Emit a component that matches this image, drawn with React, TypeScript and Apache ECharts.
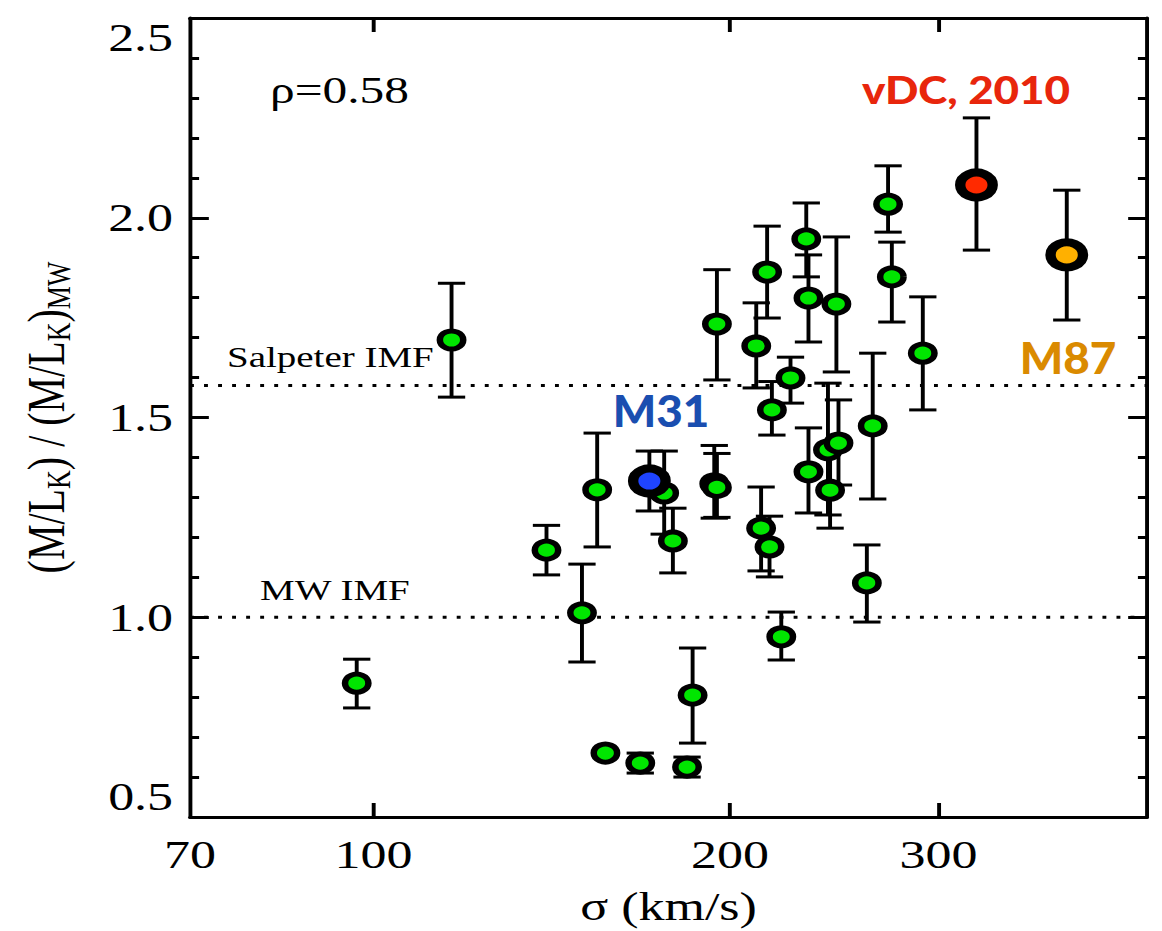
import React, { useEffect, useRef } from 'react';
import * as echarts from 'echarts';

// ---------- data (σ in km/s, (M/L_K)/(M/L_K)_MW with upper / lower error bounds) ----------
const SIGMA = [96.8, 116.4, 140, 150, 154.5, 157, 168, 176, 179, 184, 186, 194, 195, 195, 210.5, 215, 217, 212.5, 216, 221, 225, 232, 233, 246, 233, 242, 247, 243, 264, 261, 291, 272, 274];
const ML = [0.835, 1.694, 1.168, 1.011, 1.319, 0.66, 0.635, 1.311, 1.191, 0.625, 0.805, 1.334, 1.325, 1.734, 1.679, 1.864, 1.519, 1.223, 1.176, 0.951, 1.599, 1.947, 1.799, 1.784, 1.364, 1.419, 1.436, 1.318, 1.479, 1.086, 1.661, 2.034, 1.852];
const ML_HI = [0.895, 1.836, 1.23, 1.133, 1.461, 0.665, 0.66, 1.416, 1.273, 0.65, 0.923, 1.43, 1.41, 1.87, 1.787, 1.979, 1.59, 1.326, 1.253, 1.013, 1.651, 2.037, 1.907, 1.952, 1.474, 1.586, 1.544, 1.42, 1.661, 1.181, 1.802, 2.13, 1.939];
const ML_LO = [0.773, 1.551, 1.106, 0.888, 1.176, 0.655, 0.61, 1.208, 1.111, 0.6, 0.685, 1.248, 1.25, 1.594, 1.574, 1.749, 1.456, 1.116, 1.101, 0.893, 1.536, 1.852, 1.689, 1.614, 1.261, 1.256, 1.331, 1.223, 1.296, 0.988, 1.519, 1.964, 1.739];

// highlighted galaxies: [sigma, ML, hi, lo]
const M31_POINT = [171, 1.341, 1.416, 1.266];
const VDC_POINT = [323, 2.082, 2.25, 1.919];
const M87_POINT = [385, 1.907, 2.069, 1.744];

const X_RANGE = [70, 450];
const Y_RANGE = [0.5, 2.5];
const X_TICK_LABELS = [70, 100, 200, 300];
const X_TICKS = [100, 200, 300];
const IMF_LEVELS = [1.0, 1.58];
const IMF_NAMES = ['MW IMF', 'Salpeter IMF'];

// ---------- layout ----------
const W = 894;
const H = 931;
const S = 1162 / W; // horizontal stretch of the reference picture
const SERIF = "'Liberation Serif', 'Times New Roman', serif";
const SANS = "Lato, 'Open Sans', sans-serif";
const lg = (v: number) => Math.log10(v);

export default function App() {
  const ref = useRef<HTMLDivElement>(null);

  useEffect(() => {
    const chart = echarts.init(ref.current!, null, { renderer: 'svg' });

    const errData = SIGMA.map((s, i) => [lg(s), ML_HI[i], ML_LO[i]]);
    [M31_POINT, VDC_POINT, M87_POINT].forEach((p) => errData.push([lg(p[0]), p[2], p[3]]));

    const axisLine = { show: true, onZero: false, lineStyle: { color: '#000', width: 3 } };
    const xTickVals = X_TICKS.map(lg);

    const xBase = {
      type: 'value',
      min: lg(X_RANGE[0]),
      max: lg(X_RANGE[1]),
      axisLine,
      splitLine: { show: false },
    };
    const yBase = {
      type: 'value',
      min: Y_RANGE[0],
      max: Y_RANGE[1],
      interval: 0.5,
      axisLine,
      splitLine: { show: false },
      minorSplitLine: { show: false },
      axisTick: { show: true, inside: true, length: 14.5, lineStyle: { color: '#000', width: 3 } },
      minorTick: { show: true, splitNumber: 5, length: 7, lineStyle: { color: '#000', width: 3 } },
    };

    const option: any = {
      animation: false,
      backgroundColor: '#fff',
      grid: { left: 190 / S, right: W - 1147 / S, top: 18, bottom: H - 817, containLabel: false, outerBoundsMode: 'none' },
      xAxis: [
        {
          ...xBase,
          position: 'bottom',
          axisTick: { show: true, inside: true, length: 14, customValues: xTickVals, lineStyle: { color: '#000', width: 3 } },
          axisLabel: {
            show: true,
            customValues: X_TICK_LABELS.map(lg),
            formatter: (v: number) => String(Math.round(Math.pow(10, v))),
            fontFamily: SERIF,
            fontSize: 40,
            color: '#000',
            margin: 18,
          },
          name: 'σ (km/s)',
          nameLocation: 'middle',
          nameGap: 70,
          nameTextStyle: { fontFamily: SERIF, fontSize: 40, color: '#000' },
        },
        {
          ...xBase,
          position: 'top',
          axisTick: { show: true, inside: true, length: 14, customValues: xTickVals, lineStyle: { color: '#000', width: 3 } },
          axisLabel: { show: false },
        },
      ],
      yAxis: [
        {
          ...yBase,
          position: 'left',
          axisLabel: {
            show: true,
            formatter: (v: number) => v.toFixed(1),
            fontFamily: SERIF,
            fontSize: 40,
            color: '#000',
            margin: 13,
            verticalAlignMinLabel: 'bottom',
            verticalAlignMaxLabel: 'top',
          },
          name: '(M/L{s|K}) / (M/L{s|K}){s|MW}',
          nameLocation: 'middle',
          nameRotate: 90,
          nameGap: 88,
          nameTextStyle: {
            fontFamily: SERIF,
            fontSize: 40,
            lineHeight: 44,
            color: '#000',
            rich: {
              s: { fontFamily: SERIF, fontSize: 26, lineHeight: 26, padding: [22, 0, 0, 0], verticalAlign: 'bottom', color: '#000' },
            },
          },
        },
        {
          ...yBase,
          position: 'right',
          axisLabel: { show: false },
        },
      ],
      series: [
        ...IMF_LEVELS.map((lvl, k) => ({
          name: IMF_NAMES[k],
          type: 'line',
          data: [
            [lg(X_RANGE[0]), lvl],
            [lg(X_RANGE[1]), lvl],
          ],
          symbol: 'none',
          silent: true,
          z: 1,
          lineStyle: { color: '#000', width: 3, type: [3, 7.8] },
        })),
        {
          name: 'errors',
          type: 'custom',
          z: 2,
          silent: true,
          data: errData,
          encode: { x: 0, y: [1, 2] },
          renderItem: (params: any, api: any) => {
            const x = api.value(0);
            const top = api.coord([x, api.value(1)]);
            const bot = api.coord([x, api.value(2)]);
            const hw = 10.5;
            const st = { stroke: '#000', lineWidth: 3 };
            return {
              type: 'group',
              children: [
                { type: 'line', shape: { x1: top[0], y1: top[1], x2: bot[0], y2: bot[1] }, style: st },
                { type: 'line', shape: { x1: top[0] - hw, y1: top[1], x2: top[0] + hw, y2: top[1] }, style: st },
                { type: 'line', shape: { x1: bot[0] - hw, y1: bot[1], x2: bot[0] + hw, y2: bot[1] }, style: st },
              ],
            };
          },
        },
        {
          name: 'galaxies',
          type: 'scatter',
          z: 3,
          symbol: 'circle',
          symbolSize: 18,
          itemStyle: { color: '#00e600', borderColor: '#000', borderWidth: 5, opacity: 1 },
          data: SIGMA.map((s, i) => [lg(s), ML[i]]),
        },
        {
          name: 'highlighted',
          type: 'scatter',
          z: 4,
          symbol: 'circle',
          symbolSize: 25,
          itemStyle: { opacity: 1 },
          data: [
            { value: [lg(M31_POINT[0]), M31_POINT[1]], itemStyle: { color: '#1f44ff', borderColor: '#000', borderWidth: 8, opacity: 1 } },
            { value: [lg(VDC_POINT[0]), VDC_POINT[1]], itemStyle: { color: '#ff2a00', borderColor: '#000', borderWidth: 8, opacity: 1 } },
            { value: [lg(M87_POINT[0]), M87_POINT[1]], itemStyle: { color: '#ffb000', borderColor: '#000', borderWidth: 8, opacity: 1 } },
          ],
        },
      ],
      graphic: [
        { type: 'text', x: 270 / S, y: 90, style: { text: 'ρ=0.58', fontFamily: SERIF, fontSize: 38, fill: '#000', align: 'left', verticalAlign: 'middle' } },
        { type: 'text', x: 227 / S, y: 357, style: { text: IMF_NAMES[1], fontFamily: SERIF, fontSize: 30, fill: '#000', align: 'left', verticalAlign: 'middle' } },
        { type: 'text', x: 260 / S, y: 590, style: { text: IMF_NAMES[0], fontFamily: SERIF, fontSize: 30, fill: '#000', align: 'left', verticalAlign: 'middle' } },
        { type: 'text', x: 661 / S, y: 410, scaleX: 0.8, style: { text: 'M31', fontFamily: SANS, fontWeight: 900, fontSize: 44, fill: '#1a4eb0', align: 'center', verticalAlign: 'middle' } },
        { type: 'text', x: 1068 / S, y: 357, scaleX: 0.8, style: { text: 'M87', fontFamily: SANS, fontWeight: 900, fontSize: 44, fill: '#da8a00', align: 'center', verticalAlign: 'middle' } },
        { type: 'text', x: 966 / S, y: 89, scaleX: 0.89, style: { text: 'vDC, 2010', fontFamily: SANS, fontWeight: 900, fontSize: 38, fill: '#e8260c', align: 'center', verticalAlign: 'middle' } },
      ],
    };

    chart.setOption(option);
    return () => chart.dispose();
  }, []);

  return (
    <div
      ref={ref}
      style={{
        position: 'fixed',
        left: 0,
        top: 0,
        width: W,
        height: H,
        transform: `scaleX(${S})`,
        transformOrigin: '0 0',
        background: '#fff',
      }}
    />
  );
}
